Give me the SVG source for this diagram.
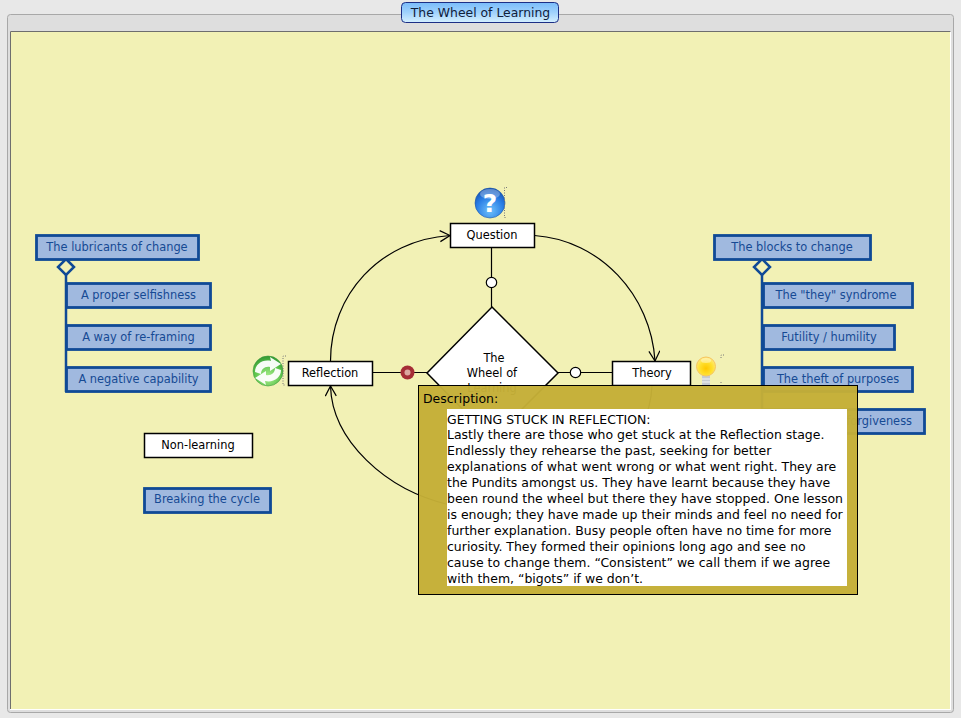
<svg xmlns="http://www.w3.org/2000/svg" width="961" height="718" viewBox="0 0 961 718">
<style>
text{font-family:"DejaVu Sans","Liberation Sans",sans-serif;font-size:11.4px;text-anchor:middle}
.w rect{fill:#fff;stroke:#000;stroke-width:1.5}
.w text{fill:#000}
.b rect{fill:#a0b9df;stroke:#104a96;stroke-width:2.800}
.b text{fill:#164a94}
.c{fill:none;stroke:#000;stroke-width:1.2}
.t{fill:none;stroke:#104a96;stroke-width:2.500}
.d{fill:none;stroke:#777;stroke-width:1;stroke-dasharray:1 1.500}
.p{font-size:12.470px;text-anchor:start;fill:#000}
</style>
<defs>
<marker id="arr" markerUnits="userSpaceOnUse" markerWidth="14" markerHeight="14" refX="11" refY="6" orient="auto"><path d="M1 0.500L11 6L1 11.500" fill="none" stroke="#000" stroke-width="1.200"/></marker>
<linearGradient id="tab" x1="0" y1="0" x2="0" y2="1"><stop offset="0" stop-color="#79bcfa"/><stop offset=".5" stop-color="#a0d2fc"/><stop offset="1" stop-color="#d5f0ff"/></linearGradient>
<radialGradient id="qg" cx=".5" cy=".75" r=".75"><stop offset="0" stop-color="#6fc1fb"/><stop offset=".6" stop-color="#2a7fe6"/><stop offset="1" stop-color="#1450b0"/></radialGradient>
<radialGradient id="gg" cx=".5" cy=".7" r=".75"><stop offset="0" stop-color="#a9ee8f"/><stop offset=".6" stop-color="#5cc34a"/><stop offset="1" stop-color="#2a8f30"/></radialGradient>
<radialGradient id="yg" cx=".5" cy=".6" r=".6"><stop offset="0" stop-color="#ffc800"/><stop offset=".55" stop-color="#ffdf2e"/><stop offset="1" stop-color="#ffeb80"/></radialGradient>
</defs>
<rect width="961" height="718" fill="#e8e8e8"/>
<rect x="7.500" y="14.500" width="946" height="698" rx="3" fill="#dedede" stroke="#a8a8a8"/>
<rect x="10.500" y="31.500" width="940" height="678" fill="#f2f1b5" stroke="#fff"/>
<path d="M10.500 709V31.500H950.500" fill="none" stroke="#6e6e6e"/>
<g id="title"><rect x="401.500" y="2.500" width="157" height="20" rx="4" fill="url(#tab)" stroke="#1c2f86"/><text x="480.500" y="17" style="font-size:12.400px" fill="#10203a">The Wheel of Learning</text></g>

<g id="connectors">
<path class="c" d="M491.500 247.500V307M372 372.500H427M558 372.500H612"/>
<path class="c" marker-end="url(#arr)" d="M330.500 361C330.500 295 380 240 450 235.500"/>
<path class="c" marker-end="url(#arr)" d="M534.500 235.500C600 240 651 295 655 361"/>
<path class="c" marker-end="url(#arr)" d="M450 505C385 490 332 440 330.500 386"/>
<path class="c" d="M652 385.500C650 440 600 495 534 505"/>
<path class="t" d="M66 274V392M762 274V434"/>
<path class="t" d="M66 259L74 267L66 275L58 267Z" style="fill:#f2f1b5"/>
<path class="t" d="M762 259L770 267L762 275L754 267Z" style="fill:#f2f1b5"/>
<circle cx="491.500" cy="282.500" r="5.200" fill="#fff" stroke="#000" stroke-width="1.200"/>
<circle cx="575.500" cy="372.500" r="5.200" fill="#fff" stroke="#000" stroke-width="1.200"/>
<circle cx="407.500" cy="372.500" r="7" fill="#a52d36"/><circle cx="407.500" cy="372.500" r="3" fill="#dba6a0"/>
</g>

<g id="icon-question"><circle cx="490" cy="203" r="15" fill="url(#qg)" stroke="#1a55a8" stroke-width=".6"/><ellipse cx="490" cy="194" rx="10" ry="5" fill="#fff" opacity=".3"/><text x="490" y="212" style="font-size:25px;font-weight:bold" fill="#fff">?</text><path class="d" d="M507 187.500H504.500V217.500H507"/></g>
<g id="icon-reflection"><circle cx="268" cy="371" r="15" fill="url(#gg)" stroke="#3c9a3c" stroke-width=".6"/><path d="M255 372C255 364 263 359 271 361L270 357L281 364L270 371L270 367C265 366 261 369 261 374ZM281 370C281 378 273 383 265 381L266 385L255 378L266 371L266 375C271 376 275 373 275 368Z" fill="#fff" opacity=".95"/><path class="d" d="M286 356H283V385H286"/></g>
<g id="icon-theory"><rect x="702" y="375" width="8" height="11" fill="#c6cbd2"/><path d="M702 379H710M702 382H710" stroke="#f4f4f4"/><circle cx="706" cy="366.500" r="9.500" fill="url(#yg)" stroke="#f6c560" stroke-width="1"/><ellipse cx="706" cy="360.500" rx="5" ry="2.500" fill="#fff" opacity=".4"/><path class="d" d="M724 355H721V358M721 382V384"/></g>

<g id="n-wheel"><path d="M492 307L558 373L492 439L427 373Z" fill="#fff" stroke="#000" stroke-width="1.500"/><text x="494" y="362">The</text><text x="492" y="377">Wheel of</text><text x="492" y="392" fill="#000">Learning</text></g>
<g id="n-question" class="w"><rect x="450.500" y="223.500" width="84" height="24"/><text x="492" y="239">Question</text></g>
<g id="n-reflection" class="w"><rect x="288.500" y="361.500" width="84" height="24"/><text x="330" y="377">Reflection</text></g>
<g id="n-theory" class="w"><rect x="612.500" y="361.500" width="78" height="24"/><text x="652" y="377">Theory</text></g>
<g id="n-nonlearning" class="w"><rect x="144.500" y="433.500" width="108" height="24"/><text x="198" y="449">Non-learning</text></g>

<g id="n-lubricants" class="b"><rect x="36.500" y="235.500" width="162" height="24"/><text x="117" y="251">The lubricants of change</text></g>
<g id="n-selfishness" class="b"><rect x="66.500" y="283.500" width="144" height="24"/><text x="138.500" y="299">A proper selfishness</text></g>
<g id="n-reframing" class="b"><rect x="66.500" y="325.500" width="144" height="24"/><text x="138.500" y="341">A way of re-framing</text></g>
<g id="n-capability" class="b"><rect x="66.500" y="367.500" width="144" height="24"/><text x="138.500" y="383">A negative capability</text></g>
<g id="n-breaking" class="b"><rect x="144.500" y="488.500" width="126" height="24"/><text x="207" y="503">Breaking the cycle</text></g>
<g id="n-blocks" class="b"><rect x="714.500" y="235.500" width="156" height="24"/><text x="792" y="251">The blocks to change</text></g>
<g id="n-they" class="b"><rect x="763.500" y="283.500" width="149" height="24"/><text x="836" y="299">The "they" syndrome</text></g>
<g id="n-futility" class="b"><rect x="763.500" y="325.500" width="131" height="24"/><text x="829" y="341">Futility / humility</text></g>
<g id="n-theft" class="b"><rect x="763.500" y="367.500" width="149" height="24"/><text x="838" y="383">The theft of purposes</text></g>
<g id="n-forgiveness" class="b"><rect x="763.500" y="409.500" width="161" height="24"/><text x="912" y="425" style="text-anchor:end">forgiveness</text></g>

<g id="description">
<rect x="418.500" y="385.500" width="439" height="209" fill="#c4ae37" fill-opacity=".97" stroke="#000"/>
<text class="p" x="423" y="403">Description:</text>
<rect x="447" y="409" width="400" height="177" fill="#fff"/>
<text class="p" x="447" y="424">GETTING STUCK IN REFLECTION:</text>
<text class="p" x="447" y="439">Lastly there are those who get stuck at the Reflection stage.</text>
<text class="p" x="447" y="455">Endlessly they rehearse the past, seeking for better</text>
<text class="p" x="447" y="471">explanations of what went wrong or what went right. They are</text>
<text class="p" x="447" y="487">the Pundits amongst us. They have learnt because they have</text>
<text class="p" x="447" y="503">been round the wheel but there they have stopped. One lesson</text>
<text class="p" x="447" y="519">is enough; they have made up their minds and feel no need for</text>
<text class="p" x="447" y="535">further explanation. Busy people often have no time for more</text>
<text class="p" x="447" y="551">curiosity. They formed their opinions long ago and see no</text>
<text class="p" x="447" y="567">cause to change them. “Consistent” we call them if we agree</text>
<text class="p" x="447" y="583">with them, “bigots” if we don’t.</text>
</g>
</svg>
